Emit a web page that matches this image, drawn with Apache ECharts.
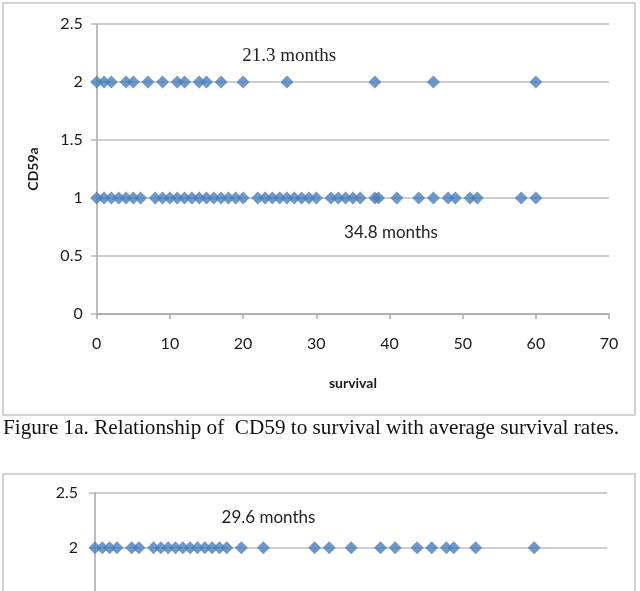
<!DOCTYPE html>
<html><head><meta charset="utf-8">
<script src="https://cdn.jsdelivr.net/npm/echarts@6/dist/echarts.min.js"></script>
<style>
html,body{margin:0;padding:0;background:#fff;overflow:hidden;width:640px;height:591px;position:relative}
#c{position:absolute;left:0;top:0;width:640px;height:470px}
#d{position:absolute;left:0;top:470px;width:640px;height:420px}
</style>
</head><body><div id="c"></div><div id="d"></div>
<script>
// ---- data ----
const xTickValues = [0, 10, 20, 30, 40, 50, 60, 70];
const yTickValues = [0, 0.5, 1, 1.5, 2, 2.5];
// Figure 1a, CD59a = 2 (survival in months)
const fig1aLevel2 = [0, 1, 2, 4, 5, 7, 9, 11, 12, 14, 15, 17, 20, 26, 38, 46, 60];
// Figure 1a, CD59a = 1
const fig1aLevel1 = [0, 1, 2, 3, 4, 5, 6, 8, 9, 10, 11, 12, 13, 14, 15, 16, 17, 18, 19, 20,
  22, 23, 24, 25, 26, 27, 28, 29, 30, 32, 33, 34, 35, 36, 38, 38.5, 41, 44, 46, 48, 49, 51, 52, 58, 60];
// Figure 1b (partly visible), level 2
const fig1bLevel2 = [0, 1, 2, 3, 5, 6, 8, 9, 10, 11, 12, 13, 14, 15, 16, 17, 18, 20, 23, 30, 32, 35, 39, 41, 44, 46, 48, 49, 52, 60];
const averageLabels1a = ['21.3 months', '34.8 months'];
const averageLabels1b = ['29.6 months'];
const xAxisTitle = 'survival';
const yAxisTitle = 'CD59a';
const captionText = 'Figure 1a. Relationship of  CD59 to survival with average survival rates.';

// ---- styles ----
const blue = '#4a7ebb';
const gridColor = '#bcbcbc';
const axisColor = '#a8a8a8';
const tickFont = 'Lato, "Open Sans", sans-serif';
const serifFont = '"Liberation Serif", serif';

function xAxisCfg(showName) {
  return {
    type: 'value', min: xTickValues[0], max: xTickValues[xTickValues.length - 1], interval: 10,
    axisLine: { show: true, onZero: false, lineStyle: { color: axisColor, width: 1.5 } },
    axisTick: { show: true, length: 5, lineStyle: { color: axisColor, width: 1.5 } },
    axisLabel: { color: '#1a1a1a', fontFamily: tickFont, fontSize: 16, margin: 22 },
    splitLine: { show: false },
    name: showName ? xAxisTitle : '', nameLocation: 'middle', nameGap: 62,
    nameTextStyle: { color: '#1a1a1a', fontFamily: tickFont, fontWeight: 'bold', fontSize: 14 }
  };
}
function yAxisCfg(showName, margin) {
  return {
    type: 'value', min: yTickValues[0], max: yTickValues[yTickValues.length - 1], interval: 0.5,
    axisLine: { show: true, lineStyle: { color: axisColor, width: 1.5 } },
    axisTick: { show: true, length: 6, lineStyle: { color: gridColor, width: 1.5 } },
    axisLabel: { color: '#1a1a1a', fontFamily: tickFont, fontSize: 16, margin: margin },
    splitLine: { show: true, lineStyle: { color: gridColor, width: 1.5 } },
    name: showName ? yAxisTitle : '', nameLocation: 'middle', nameGap: 56, nameRotate: 90,
    nameTextStyle: { color: '#1a1a1a', fontFamily: tickFont, fontWeight: 'bold', fontSize: 14 }
  };
}
function scatter(xs, level) {
  return {
    type: 'scatter', symbol: 'diamond', symbolSize: [13, 13],
    itemStyle: { color: blue },
    data: xs.map(v => [v, level]), z: 5
  };
}
function note(text, coord, font, size) {
  return {
    type: 'scatter', data: [], silent: true,
    markPoint: {
      symbol: 'circle', symbolSize: 0, silent: true,
      label: { show: true, position: 'inside', formatter: text, color: '#222', fontFamily: font, fontSize: size },
      data: [{ coord: coord }]
    }
  };
}

const chartA = echarts.init(document.getElementById('c'), null, { renderer: 'canvas' });
chartA.setOption({
  backgroundColor: '#fff',
  animation: false,
  grid: { left: 96.7, top: 24, width: 512.4, height: 290 },
  xAxis: xAxisCfg(true),
  yAxis: yAxisCfg(true, 14),
  series: [
    scatter(fig1aLevel2, 2),
    scatter(fig1aLevel1, 1),
    note(averageLabels1a[0], [26.3, 2.22], serifFont, 19),
    note(averageLabels1a[1], [40.2, 0.70], tickFont, 17)
  ],
  graphic: [
    { type: 'rect', shape: { x: 3, y: 3, width: 632, height: 412 }, style: { fill: null, stroke: '#d2d2d2', lineWidth: 2 }, z: 0 },
    { type: 'text', x: 3, y: 428, style: { text: captionText, fill: '#111', font: '21.2px "Liberation Serif", serif', textVerticalAlign: 'middle' } }
  ]
});

const chartB = echarts.init(document.getElementById('d'), null, { renderer: 'canvas' });
chartB.setOption({
  backgroundColor: 'transparent',
  animation: false,
  grid: { left: 95, top: 22.7, width: 512.4, height: 275 },
  xAxis: xAxisCfg(false),
  yAxis: yAxisCfg(false, 17),
  series: [
    scatter(fig1bLevel2, 2),
    note(averageLabels1b[0], [23.7, 2.27], tickFont, 17)
  ],
  graphic: [
    { type: 'rect', shape: { x: 3, y: 4, width: 632, height: 400 }, style: { fill: null, stroke: '#d2d2d2', lineWidth: 2 }, z: 0 }
  ]
});
</script>
</body></html>
